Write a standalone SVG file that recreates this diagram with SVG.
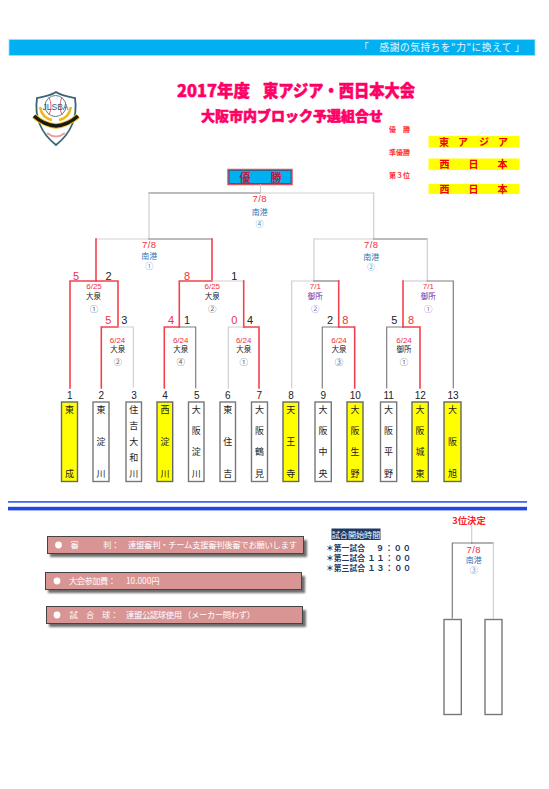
<svg xmlns="http://www.w3.org/2000/svg" width="549" height="789" viewBox="0 0 549 789">
<style>
text{font-family:"Noto Sans CJK JP","Noto Sans",sans-serif;text-anchor:middle}
.n{font-family:"Liberation Sans",sans-serif}
.num{font-family:"Liberation Sans",sans-serif;font-size:10px;fill:#222}
.sr{font-family:"Liberation Sans",sans-serif;font-size:11px;fill:#f03040}
.sk{font-family:"Liberation Sans",sans-serif;font-size:11px;fill:#222}
.d{font-family:"Liberation Sans",sans-serif;font-size:9.5px;fill:#f03040;letter-spacing:.4px}
.ds{font-family:"Liberation Sans",sans-serif;font-size:8px;fill:#f03040}
.b{font-size:8px;fill:#2e75b6}
.k{font-size:7.5px;fill:#222}
.p{font-size:7.5px;fill:#7030a0}
.ck{font-size:8.5px;fill:#666}
.cb{font-size:8px;fill:#5b9bd5}
.cp{font-size:8.5px;fill:#9b72c0}
.t{font-size:9px;fill:#222}
.y{fill:#ffff00;stroke:#666;stroke-width:1.4}
.w{fill:#fff;stroke:#777;stroke-width:1.4}
.bar{fill:#d99594;stroke:#444;stroke-width:1}
.sh{fill:#333;opacity:.7;filter:url(#bl)}
.bt{font-size:8.3px;fill:#fff;text-anchor:start}
.rl{font-size:7px;fill:#ff3030;font-weight:700;text-anchor:start}
.rt{font-size:10px;fill:#f00000;font-weight:700}
.gl{font-size:7.800px;fill:#1f3864;font-weight:700;text-anchor:start}
.title{fill:#ff0066;stroke:#ff0066;stroke-width:.5;font-weight:900;text-anchor:start}
#connectors path{fill:none;stroke-linecap:square}
.r{stroke:#f4414f;stroke-width:1.6}
.g{stroke:#7f7f7f;stroke-width:1.2}
.l{stroke:#cfcfcf;stroke-width:1.2}
.m{stroke:#a6a6a6;stroke-width:1.4}
</style>
<defs><filter id="bl" x="-5%" y="-30%" width="110%" height="160%"><feGaussianBlur stdDeviation="1.2"/></filter></defs>
<rect width="549" height="789" fill="#fff"/>

<g id="banner">
<rect x="9" y="39.500" width="526" height="16" fill="#00b0f0" stroke="#9fe0f8" stroke-width=".8"/>
<text x="442" y="50.500" style="font-size:9.700px;fill:#e8f8ff;letter-spacing:.55px">「　感謝の気持ちを"力"に換えて 」</text>
</g>

<g id="logo">
<path d="M56 92 C50 96 42 97 37 98 C35 112 37 130 56 145 C75 130 77 112 75 98 C70 97 62 96 56 92Z" fill="#fff" stroke="#3c6478" stroke-width="1.800"/>
<circle cx="55.500" cy="106" r="10.500" fill="#fff" stroke="#5a7c90" stroke-width="1"/>
<path d="M49 97 Q53 106 49 115M62 97 Q58 106 62 115" fill="none" stroke="#e06070" stroke-width="1"/>
<text x="55.500" y="109.500" class="n" style="font-size:8.500px;fill:#2f5a70">JLSBA</text>
<path d="M40 107 Q42 118 52 120 M71 107 Q69 118 59 120" fill="none" stroke="#f0b820" stroke-width="2.500"/>
<path d="M34 116 Q44 125 56 126 Q68 125 78 116" fill="none" stroke="#e8c020" stroke-width="5.500"/>
<path d="M34 116 Q44 125 56 126 Q68 125 78 116" fill="none" stroke="#1a1a10" stroke-width="3.500"/>
<path d="M47 133 Q56 140 65 133" fill="none" stroke="#e8a0a8" stroke-width="2"/>
</g>

<g id="title">
<text x="177" y="97" class="title" style="font-size:16.500px" textLength="73" lengthAdjust="spacingAndGlyphs">2017年度</text>
<text x="263" y="97" class="title" style="font-size:16.500px" textLength="152" lengthAdjust="spacingAndGlyphs">東アジア・西日本大会</text>
<text x="201" y="121" class="title" style="font-size:14px" textLength="182" lengthAdjust="spacingAndGlyphs">大阪市内ブロック予選組合せ</text>
</g>

<g id="results">
<text x="389" y="132" class="rl">優　勝</text>
<text x="389" y="154.500" class="rl">準優勝</text>
<text x="389" y="177.500" class="rl">第３位</text>
<rect x="428.500" y="136" width="91" height="11.500" fill="#ffff00"/>
<rect x="428.500" y="158.500" width="91" height="11.500" fill="#ffff00"/>
<rect x="428.500" y="184" width="91" height="10" fill="#ffff00"/>
<text x="444" y="145.500" class="rt">東</text><text x="463" y="145.500" class="rt">ア</text><text x="484" y="145.500" class="rt">ジ</text><text x="503" y="145.500" class="rt">ア</text>
<text x="444.500" y="168" class="rt">西</text><text x="473.500" y="168" class="rt">日</text><text x="502.500" y="168" class="rt">本</text>
<text x="444.500" y="192.500" class="rt">西</text><text x="473.500" y="192.500" class="rt">日</text><text x="502.500" y="192.500" class="rt">本</text>
</g>

<g id="champion">
<rect x="228" y="169.500" width="64" height="15" fill="#00b0f0" stroke="#e05060" stroke-width="1.500"/>
<rect x="229" y="170.500" width="62" height="13" fill="none" stroke="#204060" stroke-width=".6"/>
<text x="245" y="181.500" style="font-size:11px;fill:#b02040;font-weight:700">優</text>
<text x="276" y="181.500" style="font-size:11px;fill:#b02040;font-weight:700">勝</text>
</g>

<g id="connectors">
<path class="l" d="M260.500 185V193"/>
<path class="m" d="M149 193H260"/><path class="l" d="M260 193H373.700"/>
<path class="l" d="M149 193V239M373.700 193V239"/>
<path class="l" d="M96 239H149"/><path class="m" d="M149 239H212"/>
<path class="l" d="M314 239H373.700"/><path class="m" d="M373.700 239H427.300"/>
<path class="r" d="M96 239V281M212 239V281"/>
<path class="l" d="M314 239V281M427.300 239V281"/>
<path class="r" d="M70 388V281H96"/>
<path class="r" d="M96 281H118V327"/>
<path class="r" d="M101.300 388V327H118"/>
<path class="l" d="M118 327H133.300V387"/>
<path class="r" d="M179.300 327V281H212"/>
<path class="l" d="M212 281H243.700"/>
<path class="r" d="M243.700 281V327"/>
<path class="r" d="M164.300 388V327H179.300"/>
<path class="g" d="M179.300 327H195.700V388"/>
<path class="l" d="M228.300 388V327H243.700"/>
<path class="r" d="M243.700 327H259V388"/>
<path class="l" d="M291.700 388V281H314"/>
<path class="g" d="M314 281H338.700"/>
<path class="r" d="M338.700 281V327"/>
<path class="g" d="M322.300 388V327H338.700"/>
<path class="r" d="M338.700 327H354.700V388"/>
<path class="l" d="M403 281H427.300"/>
<path class="g" d="M427.300 281H453.300V388"/>
<path class="r" d="M403 281V327"/>
<path class="g" d="M386.700 388V327H403"/>
<path class="r" d="M403 327H420V388"/>
<path class="l" d="M471.700 526V543"/>
<path class="g" d="M452.300 618V543H471.700"/>
<path class="g" d="M471.700 543H493.300"/>
<path class="l" d="M493.300 543V618"/>
</g>

<g id="labels">
<text x="259.700" y="201.500" class="d">7/8</text><text x="259.700" y="214.500" class="b">南港</text><text x="259.500" y="226.500" class="cb">④</text>
<text x="149.300" y="248" class="d">7/8</text><text x="149.300" y="259" class="b">南港</text><text x="149.300" y="269" class="cb">①</text>
<text x="371.300" y="248" class="d">7/8</text><text x="371.300" y="259.500" class="b">南港</text><text x="371" y="269.500" class="cb">②</text>
<text x="94" y="288.600" class="ds">6/25</text><text x="93.500" y="299.300" class="k">大泉</text><text x="94" y="312" class="ck">①</text>
<text x="212.300" y="288.600" class="ds">6/25</text><text x="212.300" y="299.300" class="k">大泉</text><text x="212.300" y="312" class="ck">②</text>
<text x="117.500" y="342.500" class="ds">6/24</text><text x="117.700" y="352" class="k">大泉</text><text x="117.700" y="364.500" class="ck">②</text>
<text x="180.700" y="342.500" class="ds">6/24</text><text x="180.700" y="352" class="k">大泉</text><text x="180.700" y="364.500" class="ck">④</text>
<text x="243.700" y="342.500" class="ds">6/24</text><text x="243.700" y="352" class="k">大泉</text><text x="243.700" y="364.500" class="ck">①</text>
<text x="315.300" y="288.600" class="ds">7/1</text><text x="315.300" y="299.300" class="p">御所</text><text x="315.300" y="312" class="cp">②</text>
<text x="428.300" y="288.600" class="ds">7/1</text><text x="428.300" y="299.300" class="p">御所</text><text x="428.300" y="312" class="cp">①</text>
<text x="339" y="342.500" class="ds">6/24</text><text x="339" y="352" class="k">大泉</text><text x="339" y="364.500" class="ck">③</text>
<text x="404" y="342.500" class="ds">6/24</text><text x="404" y="352" class="k">御所</text><text x="404" y="364.500" class="ck">①</text>
<text x="473.700" y="552.500" class="d">7/8</text><text x="473.700" y="563.300" class="b">南港</text><text x="473.700" y="573" class="cb">③</text>

<text x="76" y="280" class="sr">5</text><text x="108.500" y="280" class="sk">2</text>
<text x="108.300" y="324" class="sr">5</text><text x="124.300" y="324" class="sk">3</text>
<text x="187" y="280" class="sr">8</text><text x="234.300" y="280" class="sk">1</text>
<text x="171" y="324" class="sr">4</text><text x="187" y="324" class="sk">1</text>
<text x="234.300" y="324" class="sr">0</text><text x="250" y="324" class="sk">4</text>
<text x="330" y="324" class="sk">2</text><text x="345.300" y="324" class="sr">8</text>
<text x="394.300" y="324" class="sk">5</text><text x="411" y="324" class="sr">8</text>

<text x="69.700" y="398.500" class="num">1</text><text x="101.300" y="398.500" class="num">2</text><text x="134" y="398.500" class="num">3</text><text x="165" y="398.500" class="num">4</text><text x="196.700" y="398.500" class="num">5</text><text x="227.700" y="398.500" class="num">6</text><text x="259.300" y="398.500" class="num">7</text><text x="291" y="398.500" class="num">8</text><text x="323.300" y="398.500" class="num">9</text><text x="355.300" y="398.500" class="num">10</text><text x="388.700" y="398.500" class="num">11</text><text x="420.300" y="398.500" class="num">12</text><text x="453" y="398.500" class="num">13</text>
</g>

<g id="team1"><rect x="61.500" y="402" width="16" height="79.500" class="y"/><text x="69.500" y="412.500" class="t">東</text><text x="69.500" y="476.700" class="t">成</text></g>
<g id="team2"><rect x="93" y="402" width="16" height="79.500" class="w"/><text x="101" y="412.500" class="t">東</text><text x="101" y="444.500" class="t">淀</text><text x="101" y="476.700" class="t">川</text></g>
<g id="team3"><rect x="126" y="402" width="15.500" height="79.500" class="w"/><text x="133.700" y="412.500" class="t">住</text><text x="133.700" y="429" class="t">吉</text><text x="133.700" y="445" class="t">大</text><text x="133.700" y="460.700" class="t">和</text><text x="133.700" y="476.700" class="t">川</text></g>
<g id="team4"><rect x="157" y="402" width="15.700" height="79.500" class="y"/><text x="164.900" y="412.500" class="t">西</text><text x="164.900" y="444.500" class="t">淀</text><text x="164.900" y="476.700" class="t">川</text></g>
<g id="team5"><rect x="188.500" y="402" width="15.500" height="79.500" class="w"/><text x="196.200" y="412.500" class="t">大</text><text x="196.200" y="434" class="t">阪</text><text x="196.200" y="455" class="t">淀</text><text x="196.200" y="476.700" class="t">川</text></g>
<g id="team6"><rect x="220" y="402" width="15.500" height="79.500" class="w"/><text x="227.700" y="412.500" class="t">東</text><text x="227.700" y="444.500" class="t">住</text><text x="227.700" y="476.700" class="t">吉</text></g>
<g id="team7"><rect x="251.500" y="402" width="16" height="79.500" class="w"/><text x="259.500" y="412.500" class="t">大</text><text x="259.500" y="434" class="t">阪</text><text x="259.500" y="455" class="t">鶴</text><text x="259.500" y="476.700" class="t">見</text></g>
<g id="team8"><rect x="283" y="402" width="15.700" height="79.500" class="y"/><text x="290.800" y="412.500" class="t">天</text><text x="290.800" y="444.500" class="t">王</text><text x="290.800" y="476.700" class="t">寺</text></g>
<g id="team9"><rect x="315" y="402" width="16.300" height="79.500" class="w"/><text x="323" y="412.500" class="t">大</text><text x="323" y="434" class="t">阪</text><text x="323" y="455" class="t">中</text><text x="323" y="476.700" class="t">央</text></g>
<g id="team10"><rect x="347" y="402" width="16" height="79.500" class="y"/><text x="355" y="412.500" class="t">大</text><text x="355" y="434" class="t">阪</text><text x="355" y="455" class="t">生</text><text x="355" y="476.700" class="t">野</text></g>
<g id="team11"><rect x="380.500" y="402" width="16.200" height="79.500" class="w"/><text x="388.500" y="412.500" class="t">大</text><text x="388.500" y="434" class="t">阪</text><text x="388.500" y="455" class="t">平</text><text x="388.500" y="476.700" class="t">野</text></g>
<g id="team12"><rect x="412" y="402" width="16.300" height="79.500" class="y"/><text x="420" y="412.500" class="t">大</text><text x="420" y="434" class="t">阪</text><text x="420" y="455" class="t">城</text><text x="420" y="476.700" class="t">東</text></g>
<g id="team13"><rect x="444" y="402" width="17" height="79.500" class="y"/><text x="452.500" y="412.500" class="t">大</text><text x="452.500" y="444.500" class="t">阪</text><text x="452.500" y="476.700" class="t">旭</text></g>

<g id="rules">
<rect x="8" y="501" width="519" height="1.800" fill="#4a66f0"/>
<rect x="8" y="506.800" width="519" height="3.600" fill="#2244ee"/>
</g>

<g id="info1">
<rect x="50" y="540" width="257" height="17" class="sh"/>
<rect x="47.500" y="536.500" width="256" height="17" class="bar"/>
<circle cx="58.500" cy="545" r="3.400" fill="#fff"/>
<text x="70.500" y="548" class="bt">審</text><text x="103" y="548" class="bt">判：</text>
<text x="128" y="548" class="bt" textLength="169" lengthAdjust="spacing">連盟審判・チーム支援審判後審でお願いします</text>
</g>
<g id="info2">
<rect x="48" y="576" width="257" height="17" class="sh"/>
<rect x="45.500" y="572.500" width="256" height="17" class="bar"/>
<circle cx="57" cy="581" r="3.400" fill="#fff"/>
<text x="69" y="584" class="bt" textLength="47" lengthAdjust="spacing">大会参加費：</text>
<text x="126" y="584" class="bt">10.000円</text>
</g>
<g id="info3">
<rect x="49" y="610" width="257" height="17" class="sh"/>
<rect x="46.500" y="606.500" width="256" height="17" class="bar"/>
<circle cx="57" cy="615" r="3.400" fill="#fff"/>
<text x="69.500" y="618" class="bt">試</text><text x="86" y="618" class="bt">合</text><text x="102" y="618" class="bt">球：</text>
<text x="126" y="618" class="bt" textLength="129" lengthAdjust="spacing">連盟公認球使用 （メーカー問わず）</text>
</g>

<g id="schedule">
<rect x="331.500" y="528.500" width="49" height="11.500" fill="#1f3864"/>
<text x="356" y="537.500" style="font-size:8.100px;fill:#fff">試合開始時間</text>
<text x="326" y="551" class="gl">＊第一試合</text><text x="376" y="551" class="gl" style="font-size:8px;letter-spacing:.9px">９：００</text>
<text x="326" y="561" class="gl">＊第二試合</text><text x="367.500" y="561" class="gl" style="font-size:8px;letter-spacing:.9px">１１：００</text>
<text x="326" y="571" class="gl">＊第三試合</text><text x="367.500" y="571" class="gl" style="font-size:8px;letter-spacing:.9px">１３：００</text>
</g>

<g id="third">
<text x="469" y="523.500" style="font-size:9.300px;fill:#ff2020;font-weight:700">3位決定</text>
<rect x="444" y="619.500" width="17.300" height="95" class="w"/>
<rect x="485" y="619.500" width="17" height="95" class="w"/>
</g>
</svg>
